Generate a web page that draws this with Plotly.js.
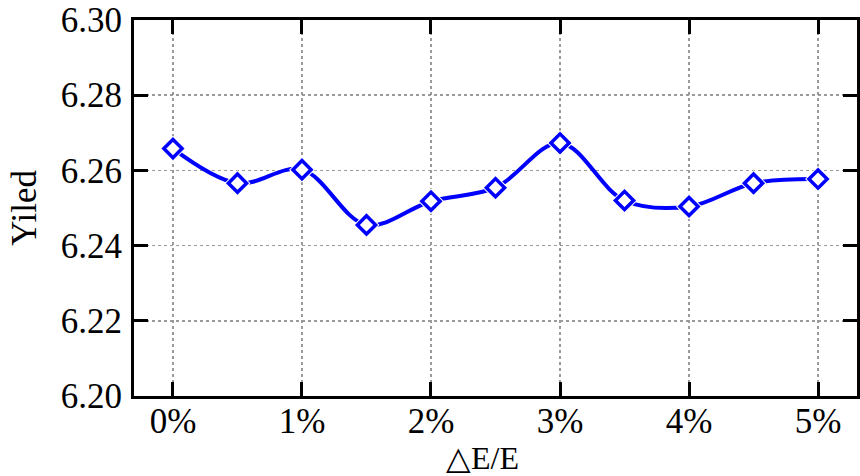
<!DOCTYPE html>
<html>
<head>
<meta charset="utf-8">
<script src="https://cdn.plot.ly/plotly-3.0.1.min.js"></script>
<style>
  html, body { margin: 0; padding: 0; background: #fff; }
  #chart { width: 860px; height: 476px; }
</style>
</head>
<body>
<div id="chart"></div>
<script>
// Relative modulus error (%) and the resulting yield
const strain = [0, 0.5, 1, 1.5, 2, 2.5, 3, 3.5, 4, 4.5, 5];
const yieldValues = [6.2658, 6.2566, 6.2602, 6.2455, 6.2518, 6.2554, 6.2673, 6.2520, 6.2504, 6.2566, 6.2577];
const xTickVals = [0, 1, 2, 3, 4, 5];
const xTickText = ['0%', '1%', '2%', '3%', '4%', '5%'];
const yTickVals = [6.20, 6.22, 6.24, 6.26, 6.28, 6.30];
const xTitle = '△E/E';
const yTitle = 'Yiled';

const blue = '#0000ff';
const font = 'Liberation Serif, Times New Roman, serif';

const traces = [
  {
    x: strain, y: yieldValues, type: 'scatter', mode: 'lines',
    line: { color: blue, width: 4, shape: 'spline', smoothing: 1 },
    hoverinfo: 'skip', showlegend: false
  },
  {
    // white halo so the curve stops short of each marker
    x: strain, y: yieldValues, type: 'scatter', mode: 'markers',
    marker: { symbol: 'diamond', size: 20, color: '#ffffff', line: { width: 0 } },
    hoverinfo: 'skip', showlegend: false
  },
  {
    x: strain, y: yieldValues, type: 'scatter', mode: 'markers',
    marker: { symbol: 'diamond-open', size: 14, color: blue, line: { color: blue, width: 3.5 } },
    showlegend: false
  }
];

const axisCommon = {
  showline: true, linecolor: '#000', linewidth: 3, mirror: 'ticks',
  ticks: 'inside', ticklen: 14, tickwidth: 3, tickcolor: '#000',
  showgrid: true, gridcolor: '#9a9a9a', gridwidth: 1.5, griddash: 'dot',
  zeroline: false,
  tickfont: { family: font, size: 35, color: '#000' }
};

const layout = {
  width: 860, height: 476,
  margin: { l: 134, r: 3, t: 20, b: 80 },
  paper_bgcolor: '#fff', plot_bgcolor: '#fff',
  xaxis: Object.assign({}, axisCommon, {
    range: [-0.302, 5.302],
    tickmode: 'array', tickvals: xTickVals, ticktext: xTickText,
    ticklabelstandoff: -8
  }),
  yaxis: Object.assign({}, axisCommon, {
    range: [6.20, 6.30],
    tickmode: 'array', tickvals: yTickVals, ticktext: yTickVals.map(v => v.toFixed(2)),
    ticklabelstandoff: 2,
    title: { text: yTitle, font: { family: font, size: 35, color: '#000' }, standoff: 14 }
  }),
  annotations: [{
    // x-axis title, set slightly left of the plot centre
    text: xTitle, xref: 'paper', yref: 'paper',
    x: 0.482, y: -0.166, xanchor: 'center', yanchor: 'middle',
    showarrow: false,
    font: { family: font, size: 32, color: '#000' }
  }]
};

Plotly.newPlot('chart', traces, layout, { displayModeBar: false, staticPlot: true });
</script>
</body>
</html>
